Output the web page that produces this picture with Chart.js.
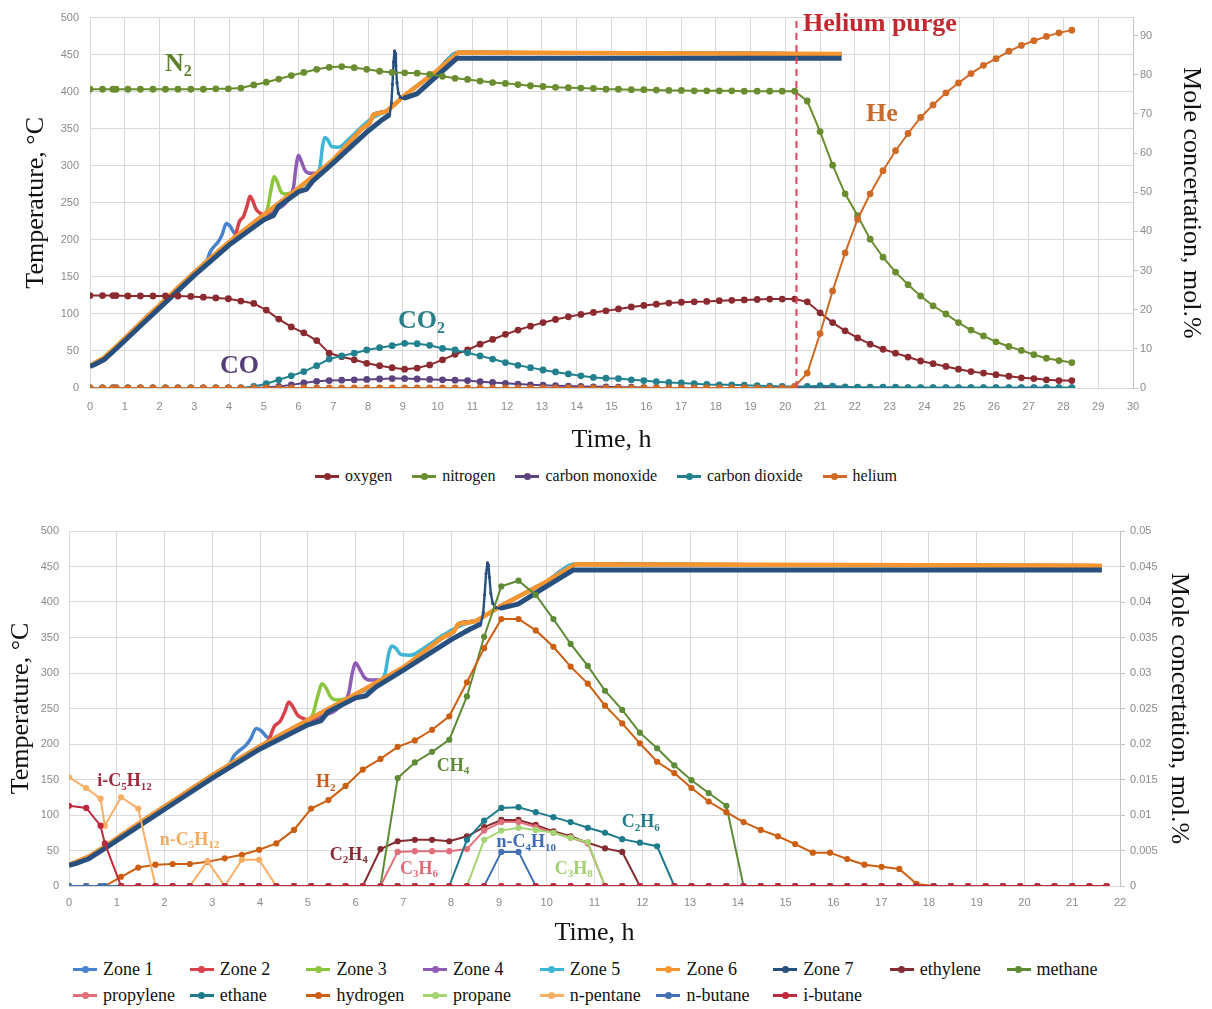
<!DOCTYPE html>
<html>
<head>
<meta charset="utf-8">
<title>Reactor run: temperatures and off-gas composition</title>
<script src="https://cdn.jsdelivr.net/npm/chart.js@4.4.1/dist/chart.umd.min.js"></script>
<style>
  body { margin: 0; background: #fff; width: 1212px; height: 1009px; position: relative; overflow: hidden; font-family: "Liberation Serif", "Times New Roman", serif; }
  canvas { position: absolute; left: 0; }
  #gasChart { top: 0; }
  #hcChart { top: 500px; }
  .legend { position: absolute; color: #111; }
  #gasLegend { top: 465px; left: 0; width: 1212px; height: 22px; display: flex; justify-content: center; align-items: center; gap: 20px; font-size: 16px; }
  #hcLegend { top: 956px; left: 73px; display: grid; grid-template-columns: repeat(9, 116.7px); grid-auto-rows: 26px; align-items: center; font-size: 18px; }
  .item { display: flex; align-items: center; white-space: nowrap; }
  .mk { position: relative; width: 24px; height: 10px; margin-right: 6px; flex: none; }
  .mk::before { content: ''; position: absolute; left: 0; right: 0; top: 4px; height: 2.5px; background: var(--c); }
  .mk::after { content: ''; position: absolute; left: 8.5px; top: 1.5px; width: 7px; height: 7px; border-radius: 50%; background: var(--c); }
</style>
</head>
<body>
<canvas id="gasChart" width="1212" height="462"></canvas>
<div id="gasLegend" class="legend"></div>
<canvas id="hcChart" width="1212" height="455"></canvas>
<div id="hcLegend" class="legend"></div>
<script>
// gas analyser sample times, hours from start of run
const sampleHours = [
  0, 0.36, 0.66, 0.75, 1.09, 1.45, 1.81, 2.17, 2.53, 2.90,
  3.26, 3.62, 3.98, 4.34, 4.71, 5.07, 5.43, 5.79, 6.15, 6.52,
  6.88, 7.24, 7.60, 7.96, 8.33, 8.69, 9.05, 9.41, 9.77, 10.14,
  10.50, 10.86, 11.22, 11.58, 11.95, 12.31, 12.67, 13.03, 13.39, 13.76,
  14.12, 14.48, 14.84, 15.20, 15.57, 15.93, 16.29, 16.65, 17.01, 17.38,
  17.74, 18.10, 18.46, 18.82, 19.19, 19.55, 19.91, 20.27, 20.63, 21.00,
  21.36, 21.72, 22.08, 22.44, 22.81, 23.17, 23.53, 23.89, 24.25, 24.62,
  24.98, 25.34, 25.70, 26.06, 26.43, 26.79, 27.15, 27.51, 27.87, 28.24
];

// zone thermocouples, [hour, degC]
const zone1 = [[0,30],[0.15,34],[0.4,41],[0.8,58],[1.5,90],[2.25,123],[3,156],[3.35,170],[3.45,183],[3.55,190],[3.7,198],[3.8,207],[3.92,222],[4.02,219],[4.14,210],[4.3,207],[5,234],[6,270],[7,308],[7.8,349],[8.05,358],[8.15,369],[8.5,373],[8.62,377],[9,393],[9.5,411],[10,429],[10.6,453],[21.62,451]];
const zone2 = [[0,30],[0.15,34],[0.4,41],[0.8,58],[1.5,90],[2.25,123],[3,156],[4,197],[4.18,206],[4.3,225],[4.42,232],[4.52,246],[4.6,259],[4.68,253],[4.78,241],[4.9,236],[5,234],[6,270],[7,308],[7.8,349],[8.05,358],[8.15,369],[8.5,373],[8.62,377],[9,393],[9.5,411],[10,429],[10.6,453],[21.62,451]];
const zone3 = [[0,30],[0.15,34],[0.4,41],[0.8,58],[1.5,90],[2.25,123],[3,156],[4,197],[5,234],[5.1,241],[5.2,266],[5.3,285],[5.38,279],[5.48,266],[5.6,262],[5.75,263],[6,270],[7,308],[7.8,349],[8.05,358],[8.15,369],[8.5,373],[8.62,377],[9,393],[9.5,411],[10,429],[10.6,453],[21.62,451]];
const zone4 = [[0,30],[0.15,34],[0.4,41],[0.8,58],[1.5,90],[2.25,123],[3,156],[4,197],[5,234],[5.8,263],[5.86,273],[5.93,300],[6,314],[6.08,306],[6.18,294],[6.3,290],[6.5,290],[7,308],[7.8,349],[8.05,358],[8.15,369],[8.5,373],[8.62,377],[9,393],[9.5,411],[10,429],[10.6,453],[21.62,451]];
const zone5 = [[0,30],[0.15,34],[0.4,41],[0.8,58],[1.5,90],[2.25,123],[3,156],[4,197],[5,234],[6,270],[6.55,291],[6.62,300],[6.69,327],[6.76,338],[6.84,335],[6.95,326],[7.15,325],[7.45,336],[7.8,352],[8.05,362],[8.25,368],[8.5,373],[8.62,377],[9,393],[9.5,411],[10,429],[10.6,453],[21.62,451]];
const zone6 = [[0,30],[0.15,34],[0.4,41],[0.8,58],[1.5,90],[2.25,123],[3,156],[4,197],[5,234],[6,270],[7,308],[7.8,349],[8.05,358],[8.15,369],[8.5,373],[8.62,377],[9,393],[9.5,411],[10,429],[10.6,453],[21.62,451]];
const zone7 = [[0,29],[0.15,32],[0.4,38],[0.8,55],[1.5,86],[2.25,119],[3,152],[4,193],[5,227],[5.28,233],[5.42,245],[6,265],[6.22,268],[6.42,280],[7,304],[8,347],[8.4,362],[8.62,369],[8.67,385],[8.7,410],[8.73,440],[8.76,455],[8.78,452],[8.8,435],[8.83,412],[8.87,398],[8.93,392],[9.02,391],[9.4,397],[9.9,418],[10.55,445],[21.62,445]];

// main gases, mol.%
const oxygen = [
  23.6, 23.6, 23.6, 23.6, 23.5, 23.5, 23.5, 23.5, 23.5, 23.4,
  23.2, 23.0, 22.8, 22.2, 21.6, 19.9, 17.6, 15.6, 14.1, 12.1,
  8.9, 8.0, 7.2, 6.3, 5.7, 5.2, 4.8, 5.1, 5.9, 7.2,
  8.6, 9.7, 11.2, 12.4, 13.7, 14.8, 15.8, 16.7, 17.5, 18.2,
  18.8, 19.3, 19.7, 20.2, 20.7, 21.1, 21.4, 21.7, 21.9, 22.0,
  22.1, 22.3, 22.4, 22.5, 22.6, 22.7, 22.7, 22.7, 22.0, 19.2,
  16.7, 14.6, 12.8, 11.2, 9.9, 8.9, 7.9, 6.9, 6.2, 5.5,
  4.8, 4.2, 3.8, 3.4, 3.0, 2.6, 2.4, 2.1, 1.9, 1.9
];
const nitrogen = [
  76.3, 76.3, 76.3, 76.3, 76.3, 76.3, 76.3, 76.3, 76.3, 76.3,
  76.3, 76.4, 76.4, 76.6, 77.4, 78.1, 78.9, 79.8, 80.6, 81.4,
  81.9, 82.1, 81.8, 81.4, 80.9, 80.6, 80.5, 80.4, 80.1, 79.6,
  79.1, 78.8, 78.4, 78.0, 77.8, 77.5, 77.2, 77.0, 76.8, 76.7,
  76.6, 76.5, 76.3, 76.3, 76.2, 76.2, 76.1, 76.0, 76.0, 75.9,
  75.9, 75.9, 75.9, 75.8, 75.8, 75.8, 75.8, 75.8, 73.3, 65.5,
  56.9, 49.6, 44.0, 38.0, 33.4, 29.6, 26.4, 23.5, 21.0, 18.9,
  16.7, 14.8, 13.3, 11.8, 10.6, 9.6, 8.5, 7.6, 7.0, 6.5
];
const carbonMonoxide = [
  0, 0, 0, 0, 0, 0, 0, 0, 0, 0,
  0, 0, 0, 0, 0, 0.2, 0.4, 0.8, 1.3, 1.7,
  1.9, 2.0, 2.1, 2.2, 2.3, 2.4, 2.4, 2.3, 2.2, 2.1,
  2.0, 1.9, 1.6, 1.4, 1.2, 1.0, 0.8, 0.7, 0.6, 0.5,
  0.4, 0.3, 0.3, 0.2, 0.2, 0.1, 0, 0, 0, 0,
  0, 0, 0, 0, 0, 0, 0, 0, 0, 0,
  0, 0, 0, 0, 0, 0, 0, 0, 0, 0,
  0, 0, 0, 0, 0, 0, 0, 0, 0, 0
];
const carbonDioxide = [
  0, 0, 0, 0, 0, 0, 0, 0, 0, 0,
  0, 0, 0, 0, 0.4, 1.1, 2.1, 3.1, 4.2, 5.7,
  7.4, 8.2, 8.9, 9.7, 10.3, 10.8, 11.4, 11.3, 10.9, 10.1,
  9.7, 9.0, 8.2, 7.4, 6.5, 5.8, 5.2, 4.6, 4.1, 3.6,
  3.1, 2.7, 2.5, 2.4, 2.1, 1.9, 1.6, 1.4, 1.3, 1.1,
  0.9, 0.8, 0.8, 0.7, 0.6, 0.5, 0.4, 0.4, 0.4, 0.6,
  0.5, 0.3, 0.2, 0.2, 0.2, 0.2, 0.1, 0.1, 0.1, 0.1,
  0.1, 0.1, 0.1, 0.1, 0.1, 0.1, 0.1, 0.1, 0.1, 0.1
];
const helium = [
  0, 0, 0, 0, 0, 0, 0, 0, 0, 0,
  0, 0, 0, 0, 0, 0, 0, 0, 0, 0,
  0, 0, 0, 0, 0, 0, 0, 0, 0, 0,
  0, 0, 0, 0, 0, 0, 0, 0, 0, 0,
  0, 0, 0, 0, 0, 0, 0, 0, 0, 0,
  0, 0, 0, 0, 0, 0, 0, 0.4, 3.8, 13.9,
  24.8, 34.5, 43.1, 49.6, 55.5, 60.6, 65.0, 69.1, 72.3, 75.4,
  77.9, 80.3, 82.4, 84.1, 86.0, 87.5, 88.7, 89.8, 90.7, 91.4
];

// light hydrocarbons and hydrogen, mol.% (first 62 samples)
const ethylene = [
  0, 0, 0, 0, 0, 0, 0, 0, 0, 0,
  0, 0, 0, 0, 0, 0, 0, 0, 0, 0.0052,
  0.0063, 0.0065, 0.0065, 0.0063, 0.0070, 0.0083, 0.0093, 0.0093, 0.0086, 0.0077,
  0.0070, 0.0061, 0.0053, 0.0048, 0, 0, 0, 0, 0, 0,
  0, 0, 0, 0, 0, 0, 0, 0, 0, 0,
  0, 0, 0, 0, 0, 0, 0, 0, 0, 0,
  0, 0
];
const methane = [
  0, 0, 0, 0, 0, 0, 0, 0, 0, 0,
  0, 0, 0, 0, 0, 0, 0, 0, 0, 0,
  0.0152, 0.0174, 0.0189, 0.0206, 0.0267, 0.0351, 0.0422, 0.0430, 0.0410, 0.0376,
  0.0341, 0.0310, 0.0275, 0.0248, 0.0216, 0.0194, 0.0170, 0.0149, 0.0131, 0.0113,
  0, 0, 0, 0, 0, 0, 0, 0, 0, 0,
  0, 0, 0, 0, 0, 0, 0, 0, 0, 0,
  0, 0
];
const propylene = [
  0, 0, 0, 0, 0, 0, 0, 0, 0, 0,
  0, 0, 0, 0, 0, 0, 0, 0, 0, 0,
  0.0048, 0.0049, 0.0049, 0.0049, 0.0052, 0.0078, 0.0090, 0.0090, 0.0083, 0.0075,
  0.0068, 0.0060, 0, 0, 0, 0, 0, 0, 0, 0,
  0, 0, 0, 0, 0, 0, 0, 0, 0, 0,
  0, 0, 0, 0, 0, 0, 0, 0, 0, 0,
  0, 0
];
const ethane = [
  0, 0, 0, 0, 0, 0, 0, 0, 0, 0,
  0, 0, 0, 0, 0, 0, 0, 0, 0, 0,
  0, 0, 0, 0, 0.0065, 0.0092, 0.0110, 0.0111, 0.0104, 0.0097,
  0.0090, 0.0082, 0.0075, 0.0066, 0.0061, 0.0056, 0, 0, 0, 0,
  0, 0, 0, 0, 0, 0, 0, 0, 0, 0,
  0, 0, 0, 0, 0, 0, 0, 0, 0, 0,
  0, 0
];
const hydrogen = [
  0, 0, 0, 0, 0.0013, 0.0026, 0.0030, 0.0031, 0.0031, 0.0034,
  0.0039, 0.0044, 0.0051, 0.0060, 0.0079, 0.0109, 0.0121, 0.0141, 0.0164, 0.0179,
  0.0196, 0.0205, 0.0220, 0.0239, 0.0287, 0.0335, 0.0376, 0.0376, 0.0360, 0.0337,
  0.0309, 0.0285, 0.0254, 0.0229, 0.0201, 0.0175, 0.0159, 0.0138, 0.0119, 0.0104,
  0.0090, 0.0079, 0.0070, 0.0059, 0.0047, 0.0047, 0.0038, 0.0030, 0.0027, 0.0024,
  0.0003, 0, 0, 0, 0, 0, 0, 0, 0, 0,
  0, 0
];
const propane = [
  0, 0, 0, 0, 0, 0, 0, 0, 0, 0,
  0, 0, 0, 0, 0, 0, 0, 0, 0, 0,
  0, 0, 0, 0, 0, 0.0065, 0.0078, 0.0082, 0.0079, 0.0075,
  0.0068, 0.0062, 0, 0, 0, 0, 0, 0, 0, 0,
  0, 0, 0, 0, 0, 0, 0, 0, 0, 0,
  0, 0, 0, 0, 0, 0, 0, 0, 0, 0,
  0, 0
];
const nPentane = [
  0.0153, 0.0138, 0.0123, 0.0085, 0.0125, 0.0109, 0, 0, 0, 0.0035,
  0, 0.0037, 0.0037, 0, 0, 0, 0, 0, 0, 0,
  0, 0, 0, 0, 0, 0, 0, 0, 0, 0,
  0, 0, 0, 0, 0, 0, 0, 0, 0, 0,
  0, 0, 0, 0, 0, 0, 0, 0, 0, 0,
  0, 0, 0, 0, 0, 0, 0, 0, 0, 0,
  0, 0
];
const nButane = [
  0, 0, 0, 0, 0, 0, 0, 0, 0, 0,
  0, 0, 0, 0, 0, 0, 0, 0, 0, 0,
  0, 0, 0, 0, 0, 0, 0.0048, 0.0048, 0, 0,
  0, 0, 0, 0, 0, 0, 0, 0, 0, 0,
  0, 0, 0, 0, 0, 0, 0, 0, 0, 0,
  0, 0, 0, 0, 0, 0, 0, 0, 0, 0,
  0, 0
];
const iButane = [
  0.0113, 0.0110, 0.0085, 0.0060, 0, 0, 0, 0, 0, 0,
  0, 0, 0, 0, 0, 0, 0, 0, 0, 0,
  0, 0, 0, 0, 0, 0, 0, 0, 0, 0,
  0, 0, 0, 0, 0, 0, 0, 0, 0, 0,
  0, 0, 0, 0, 0, 0, 0, 0, 0, 0,
  0, 0, 0, 0, 0, 0, 0, 0, 0, 0,
  0, 0
];

const serif = '"Liberation Serif", "Times New Roman", serif';
const sans = '"Liberation Sans", Arial, sans-serif';
const gridColor = '#d9d9d9';
const tickColor = '#8a8a8a';

const zoneColors = ['#4783CF', '#D8414A', '#8CC63F', '#8E5CB5', '#3CB5D6', '#F7952F', '#28507F'];
const zoneData = [zone1, zone2, zone3, zone4, zone5, zone6, zone7];

const inSpike = h => h > 8.6 && h < 9.05;

function zoneSets() {
  return zoneData.map((pts, i) => {
    const set = {
      label: 'Zone ' + (i + 1),
      yAxisID: 'y',
      data: pts.map(p => ({ x: p[0], y: p[1] })),
      borderColor: zoneColors[i],
      backgroundColor: zoneColors[i],
      borderWidth: i === 6 ? 5 : (i === 5 ? 4.5 : 3.5),
      pointRadius: 0,
      borderJoinStyle: 'round'
    };
    if (i < 5) set.cubicInterpolationMode = 'monotone';
    if (i === 6) {
      // the hot spot in zone 7 is logged densely: thin line with small markers
      set.segment = { borderWidth: c => (inSpike(c.p0.parsed.x) && inSpike(c.p1.parsed.x)) ? 2.4 : 5 };
      set.pointRadius = c => (c.raw && inSpike(c.raw.x)) ? 1.6 : 0;
      set.pointBorderWidth = 0;
      set.pointBackgroundColor = zoneColors[i];
    }
    return set;
  });
}

function gasSet(label, color, values, radius) {
  return {
    label,
    yAxisID: 'y2',
    data: values.map((v, i) => ({ x: sampleHours[i], y: v })),
    borderColor: color,
    backgroundColor: color,
    borderWidth: 2,
    pointRadius: radius,
    pointBorderWidth: 0,
    pointBackgroundColor: color,
    inLegend: true
  };
}

// chemical formulas: digits are drawn as subscripts
function drawFormula(ctx, text, x, y, size, color) {
  let cx = x;
  ctx.fillStyle = color;
  for (const part of text.match(/\d+|\D+/g)) {
    const sub = /^\d+$/.test(part);
    ctx.font = 'bold ' + (sub ? Math.round(size * 0.62) : size) + 'px ' + serif;
    ctx.fillText(part, cx, y + (sub ? size * 0.3 : 0));
    cx += ctx.measureText(part).width;
  }
}

const seriesLabels = {
  id: 'seriesLabels',
  afterDatasetsDraw(chart, args, opts) {
    const { ctx, chartArea } = chart;
    const xs = chart.scales.x, ys = chart.scales.y;
    ctx.save();
    if (opts.purgeAt !== undefined) {
      const px = xs.getPixelForValue(opts.purgeAt);
      ctx.strokeStyle = '#D8465E';
      ctx.lineWidth = 2;
      ctx.setLineDash([7, 5]);
      ctx.beginPath();
      ctx.moveTo(px, chartArea.bottom);
      ctx.lineTo(px, chartArea.top);
      ctx.stroke();
      ctx.setLineDash([]);
    }
    ctx.textBaseline = 'middle';
    ctx.textAlign = 'left';
    (opts.items || []).forEach(it => {
      drawFormula(ctx, it.text, xs.getPixelForValue(it.x), ys.getPixelForValue(it.y), opts.size, it.color);
    });
    ctx.restore();
  }
};

function title(text, padding) {
  return { display: true, text, color: '#111', font: { family: serif, size: 26 }, padding };
}

function tickFont() {
  return { family: sans, size: 11 };
}

function buildOptions(cfg) {
  return {
    responsive: false,
    animation: false,
    devicePixelRatio: 1,
    layout: { padding: { top: cfg.padTop, right: 0, bottom: 0, left: 0 } },
    plugins: {
      legend: { display: false },
      tooltip: { enabled: false },
      seriesLabels: cfg.labels
    },
    scales: {
      x: {
        type: 'linear', min: 0, max: cfg.xMax,
        afterFit: s => { s.height = cfg.xHeight; },
        ticks: { stepSize: 1, autoSkip: false, maxRotation: 0, padding: cfg.xTickPad, color: tickColor, font: tickFont() },
        grid: { color: gridColor, drawTicks: false },
        border: { color: gridColor },
        title: title('Time, h', { top: 0, bottom: 6 })
      },
      y: {
        position: 'left', min: 0, max: 500,
        afterFit: s => { s.width = cfg.leftWidth; },
        ticks: { stepSize: 50, padding: cfg.yTickPad, color: tickColor, font: tickFont() },
        grid: { color: gridColor, drawTicks: false },
        border: { color: gridColor },
        title: title('Temperature, °C', { top: cfg.leftTitlePad, bottom: 0 })
      },
      y2: {
        position: 'right', min: 0, max: cfg.y2Max,
        afterFit: s => { s.width = cfg.rightWidth; },
        afterBuildTicks: s => {
          s.ticks = s.ticks.filter(t => Math.abs(t.value / cfg.y2Step - Math.round(t.value / cfg.y2Step)) < 1e-6);
        },
        ticks: { stepSize: cfg.y2Step, padding: cfg.y2TickPad, color: tickColor, font: tickFont(),
                 callback: v => String(+v.toFixed(3)) },
        grid: { drawOnChartArea: false, color: '#c4c4c4', tickLength: 5 },
        border: { color: '#c4c4c4' },
        title: title('Mole concertation, mol.%', { top: cfg.rightTitlePad, bottom: 0 })
      }
    }
  };
}

function buildLegend(chart, el) {
  chart.data.datasets.filter(d => d.inLegend !== false).forEach(d => {
    const item = document.createElement('div');
    item.className = 'item';
    const mk = document.createElement('span');
    mk.className = 'mk';
    mk.style.setProperty('--c', d.borderColor);
    item.appendChild(mk);
    item.appendChild(document.createTextNode(d.label));
    el.appendChild(item);
  });
}

// later series sit on top, as in the spreadsheet
function stackLikeSheet(sets) {
  sets.forEach((d, i) => { d.order = -i; });
  return sets;
}

// ---- upper chart: O2 / N2 / CO / CO2 / He with zone temperatures ----
const upperZones = zoneSets().map(d => Object.assign(d, { inLegend: false }));
const gasChart = new Chart(document.getElementById('gasChart'), {
  type: 'line',
  data: {
    datasets: stackLikeSheet(upperZones.concat([
      gasSet('oxygen', '#8B2B2F', oxygen, 3.4),
      gasSet('nitrogen', '#6A8D2F', nitrogen, 3.4),
      gasSet('carbon monoxide', '#5C4380', carbonMonoxide, 3.4),
      gasSet('carbon dioxide', '#23808F', carbonDioxide, 3.4),
      gasSet('helium', '#CF6B27', helium, 3.4)
    ]))
  },
  options: buildOptions({
    padTop: 15, xMax: 30, xHeight: 74, xTickPad: 12, leftWidth: 90, yTickPad: 11,
    leftTitlePad: 21, rightWidth: 79, y2Max: 94.6, y2Step: 10, y2TickPad: 2, rightTitlePad: 6,
    labels: {
      size: 26,
      purgeAt: 20.32,
      items: [
        { text: 'N2', x: 2.16, y: 437, color: '#5E7F2C' },
        { text: 'CO2', x: 8.86, y: 89.8, color: '#2B7F8A' },
        { text: 'CO', x: 3.74, y: 29.5, color: '#573D77' },
        { text: 'He', x: 22.32, y: 370, color: '#C86A2C' },
        { text: 'Helium purge', x: 20.51, y: 490.6, color: '#C3272F' }
      ]
    }
  }),
  plugins: [seriesLabels]
});
buildLegend(gasChart, document.getElementById('gasLegend'));

// ---- lower chart: hydrocarbons and hydrogen ----
const hcChart = new Chart(document.getElementById('hcChart'), {
  type: 'line',
  data: {
    datasets: stackLikeSheet(zoneSets().concat([
      gasSet('ethylene', '#842C31', ethylene, 3.1),
      gasSet('methane', '#5E8B35', methane, 3.1),
      gasSet('propylene', '#E0707A', propylene, 3.1),
      gasSet('ethane', '#1E7B8C', ethane, 3.1),
      gasSet('hydrogen', '#CD5F12', hydrogen, 3.1),
      gasSet('propane', '#A5D473', propane, 3.1),
      gasSet('n-pentane', '#F9AE66', nPentane, 3.1),
      gasSet('n-butane', '#4270B3', nButane, 3.1),
      gasSet('i-butane', '#C0283D', iButane, 3.1)
    ]))
  },
  options: buildOptions({
    padTop: 31, xMax: 22, xHeight: 69, xTickPad: 10, leftWidth: 69, yTickPad: 10,
    leftTitlePad: 6, rightWidth: 92, y2Max: 0.05, y2Step: 0.005, y2TickPad: 5, rightTitlePad: 18,
    labels: {
      size: 18,
      items: [
        { text: 'i-C5H12', x: 0.59, y: 147, color: '#A3283E' },
        { text: 'n-C5H12', x: 1.9, y: 64.8, color: '#F7A95C' },
        { text: 'H2', x: 5.17, y: 146, color: '#CB5E16' },
        { text: 'CH4', x: 7.7, y: 169, color: '#5E8B35' },
        { text: 'C2H4', x: 5.46, y: 43.7, color: '#8A2B33' },
        { text: 'C3H6', x: 6.93, y: 24, color: '#E06B78' },
        { text: 'n-C4H10', x: 8.95, y: 61.3, color: '#3E6CB4' },
        { text: 'C3H8', x: 10.17, y: 24, color: '#A3D06E' },
        { text: 'C2H6', x: 11.57, y: 89.4, color: '#237C8D' }
      ]
    }
  }),
  plugins: [seriesLabels]
});
buildLegend(hcChart, document.getElementById('hcLegend'));
</script>
</body>
</html>
